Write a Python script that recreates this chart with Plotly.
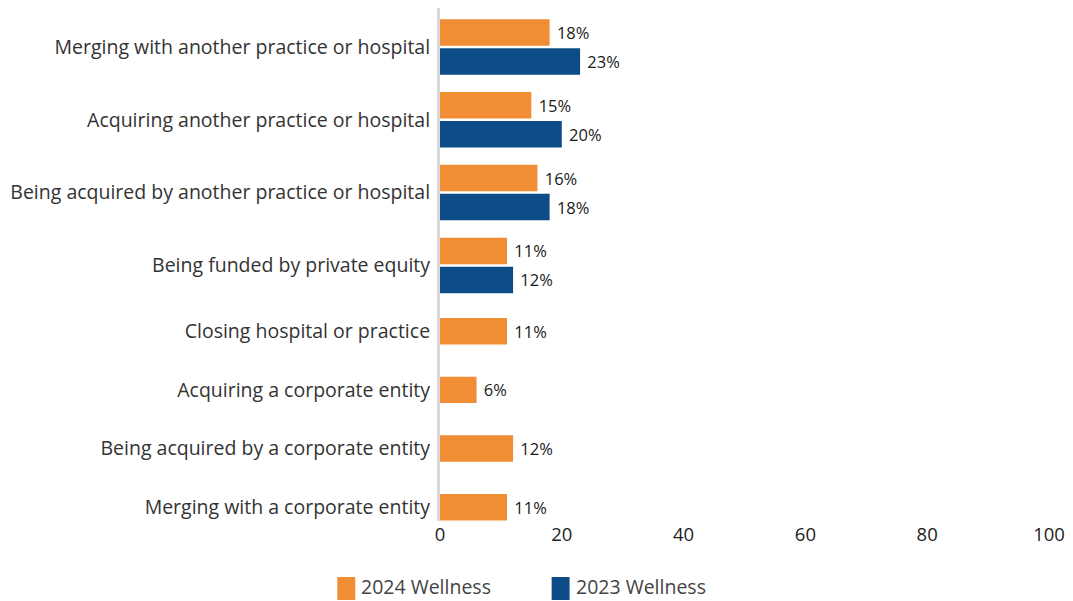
import plotly.graph_objects as go

# --- data -------------------------------------------------------------
categories = [
    "Merging with another practice or hospital",
    "Acquiring another practice or hospital",
    "Being acquired by another practice or hospital",
    "Being funded by private equity",
    "Closing hospital or practice",
    "Acquiring a corporate entity",
    "Being acquired by a corporate entity",
    "Merging with a corporate entity",
]
wellness_2024 = [18, 15, 16, 11, 11, 6, 12, 11]
wellness_2023 = [23, 20, 18, 12, None, None, None, None]
series_names = ["2024 Wellness", "2023 Wellness"]
x_ticks = [0, 20, 40, 60, 80, 100]

# --- style ------------------------------------------------------------
ORANGE = "#F18D35"
BLUE = "#0E4C87"
FONT = "Open Sans"
BAR_W = 0.451          # bar thickness in row units
BAR_GAP = 0.043        # gap between paired bars
SLOT = {1: 1.0, 2: 1.24}  # row height depending on the number of bars in it

# row centres: rows holding two bars get a taller slot
n_bars = [1 + (v is not None) for v in wellness_2023]
centres = [0.0]
for i in range(1, len(categories)):
    centres.append(centres[-1] + (SLOT[n_bars[i - 1]] + SLOT[n_bars[i]]) / 2)

shift = (BAR_W + BAR_GAP) / 2
y_2024 = [c - shift if n == 2 else c for c, n in zip(centres, n_bars)]
idx_2023 = [i for i, v in enumerate(wellness_2023) if v is not None]
y_2023 = [centres[i] + shift for i in idx_2023]
v_2023 = [wellness_2023[i] for i in idx_2023]

fig = go.Figure()
label_font = dict(family=FONT, size=16.5, color="#1a1a1a")
fig.add_trace(go.Bar(
    x=wellness_2024, y=y_2024, orientation="h", width=BAR_W,
    marker=dict(color=ORANGE, line=dict(width=0)), name=series_names[0],
    texttemplate=" %{x}%", textposition="outside", textfont=label_font,
    cliponaxis=False, showlegend=False,
))
fig.add_trace(go.Bar(
    x=v_2023, y=y_2023, orientation="h", width=BAR_W,
    marker=dict(color=BLUE, line=dict(width=0)), name=series_names[1],
    texttemplate=" %{x}%", textposition="outside", textfont=label_font,
    cliponaxis=False, showlegend=False,
))

# legend drawn as swatches + text, centred below the plot
legend_items = [(series_names[0], ORANGE, 337), (series_names[1], BLUE, 552)]
W, H = 1073, 601
for name, color, px in legend_items:
    fig.add_shape(type="rect", xref="paper", yref="paper",
                  x0=(px - 440) / 611, x1=(px + 18 - 440) / 611,
                  y0=(521 - 600) / 513, y1=(521 - 577) / 513,
                  fillcolor=color, line=dict(width=0), layer="above")
    fig.add_annotation(text=name, xref="paper", yref="paper",
                       x=(px + 23 - 440) / 611, y=(521 - 586) / 513,
                       xanchor="left", yanchor="middle", showarrow=False,
                       borderpad=0,
                       font=dict(family=FONT, size=19.5, color="#444444"))

top_pad = 39 / 58.7
bot_pad = 13.7 / 58.7
fig.update_layout(
    width=W, height=H,
    margin=dict(l=440, r=22, t=8, b=80),
    paper_bgcolor="white", plot_bgcolor="white",
    barmode="overlay",
    font=dict(family=FONT, color="#333333"),
    xaxis=dict(range=[0, 100], tickvals=x_ticks, showgrid=False, zeroline=False,
               showline=False, ticks="", tickfont=dict(family=FONT, size=18.5, color="#222222")),
    yaxis=dict(range=[centres[-1] + bot_pad, -top_pad], tickvals=centres,
               ticktext=categories, showgrid=False, zeroline=False,
               showline=True, linecolor="#d9d9d9", linewidth=3,
               ticks="outside", ticklen=3, tickcolor="rgba(0,0,0,0)",
               tickfont=dict(family=FONT, size=19.5, color="#333333")),
)

fig.write_html("out.html")
